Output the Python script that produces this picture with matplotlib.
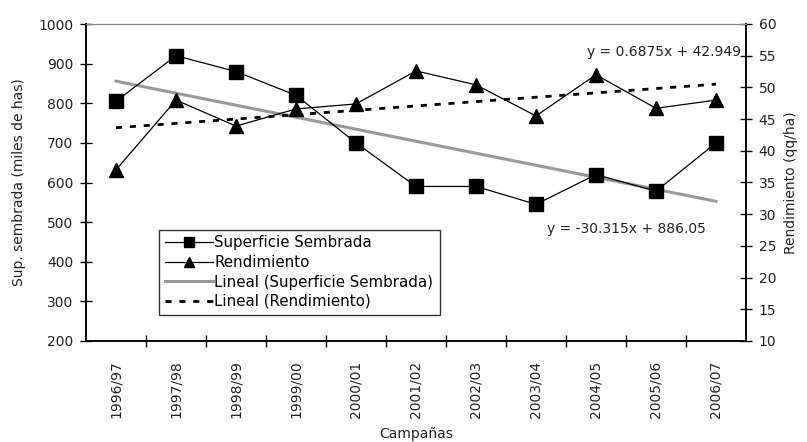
import matplotlib.pyplot as plt
import numpy as np

plt.rcParams['font.family'] = ['DejaVu Sans']

campanas = ['1996/97', '1997/98', '1998/99', '1999/00', '2000/01', '2001/02',
            '2002/03', '2003/04', '2004/05', '2005/06', '2006/07']
superficie = [805, 920, 880, 820, 700, 590, 590, 545, 620, 578, 700]
rendimiento = [37.0, 48.0, 43.9, 46.6, 47.4, 52.6, 50.4, 45.5, 52.0, 46.7, 48.0]

# trend coefficients as printed on the chart
sup_m, sup_b = -30.315, 886.05
ren_m, ren_b = 0.6875, 42.949

x = np.arange(len(campanas))
xt = x + 1  # excel trend uses 1..n

fig = plt.figure(figsize=(8.07, 4.42), dpi=100)
ax = fig.add_axes([86/807, 1-341/442, 660/807, 317/442])
ax2 = ax.twinx()

txt = '#222222'

l1, = ax.plot(x, superficie, color='black', linewidth=0.9, marker='s',
              markersize=10, label='Superficie Sembrada', zorder=3)
l3, = ax.plot(x, sup_m*xt + sup_b, color='#999999', linewidth=2.2,
              label='Lineal (Superficie Sembrada)', zorder=2)
l2, = ax2.plot(x, rendimiento, color='black', linewidth=0.9, marker='^',
               markersize=10, label='Rendimiento', zorder=3)
l4, = ax2.plot(x, ren_m*xt + ren_b, color='black', linewidth=2,
               linestyle=(0, (2.2, 2.8)), label='Lineal (Rendimiento)', zorder=2)

ax.set_xlim(-0.5, 10.5)
ax.set_ylim(200, 1000)
ax.set_yticks(np.arange(200, 1001, 100))
ax2.set_ylim(10, 60)
ax2.set_yticks(np.arange(10, 61, 5))

ax.set_xticks(x)
ax.set_xticklabels(campanas, rotation=90, fontsize=10, color=txt)
ax.set_xticks(np.arange(0.5, 10, 1), minor=True)
ax.tick_params(axis='x', which='major', length=0, pad=14)
ax.tick_params(axis='x', which='minor', direction='inout', length=8, width=1)
ax.tick_params(axis='y', direction='inout', length=8, width=1, labelsize=10,
               labelcolor=txt, pad=5)
ax2.tick_params(axis='y', direction='inout', length=8, width=1, labelsize=10,
                labelcolor=txt, pad=5)

for a in (ax, ax2):
    a.spines['top'].set_color('#888888')
    a.spines['left'].set_linewidth(1.1)
    a.spines['bottom'].set_linewidth(1.1)
    a.spines['right'].set_linewidth(1.1)

ax.set_ylabel('Sup. sembrada (miles de has)', fontsize=10, color=txt,
              labelpad=9)
ax2.set_ylabel('Rendimiento (qq/ha)', fontsize=10, color=txt, labelpad=6)
ax.set_xlabel('Campañas', fontsize=10, color=txt, labelpad=6)

ax.text(0.993, 0.912, 'y = 0.6875x + 42.949', transform=ax.transAxes,
        ha='right', va='center', fontsize=10, color=txt)
ax.text(0.939, 0.353, 'y = -30.315x + 886.05', transform=ax.transAxes,
        ha='right', va='center', fontsize=10, color=txt)

leg = ax.legend(handles=[l1, l2, l3, l4], loc='lower left',
                bbox_to_anchor=(159/807, 1-315/442), bbox_transform=fig.transFigure,
                fontsize=10.8, frameon=True, fancybox=False, handlelength=3.2,
                handletextpad=0.1, labelspacing=0.3, borderpad=0.4,
                markerscale=0.7, borderaxespad=0)
leg.get_frame().set_edgecolor('black')
leg.get_frame().set_linewidth(1)
leg.set_zorder(5)

fig.savefig('out.png', dpi=100)
